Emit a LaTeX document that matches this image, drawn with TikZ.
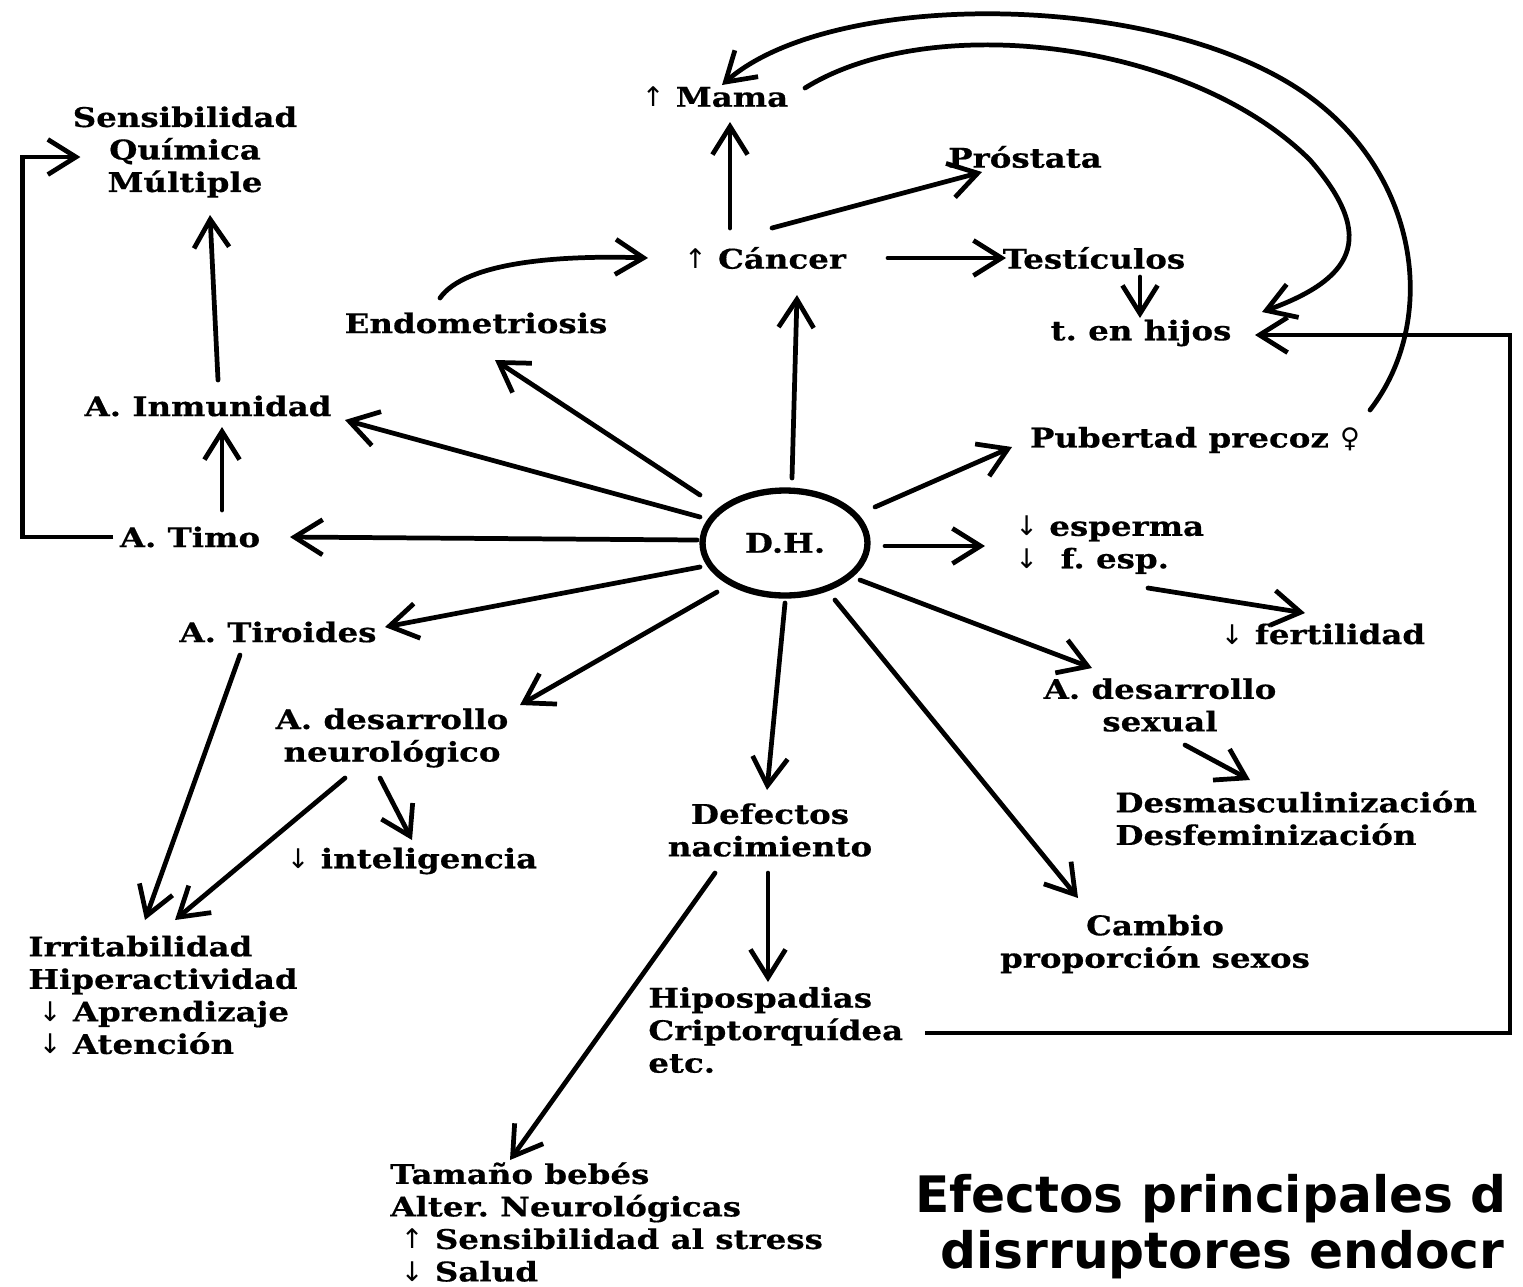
\documentclass[tikz,border=0pt]{standalone}
\usepackage{fontspec}
\setmainfont{DejaVu Serif}[FakeStretch=1.2, BoldFeatures={FakeBold=0.5}]
\newfontfamily\arrfont{DejaVu Sans}
\newfontfamily\titlefont{DejaVu Sans}
\usetikzlibrary{arrows.meta,shapes.geometric}
\newcommand\myup{{\arrfont\mdseries ↑}}
\newcommand\mydown{{\arrfont\mdseries ↓}}
\newcommand\myfem{{\arrfont\mdseries ♀}}
\begin{document}
\frenchspacing
\begin{tikzpicture}[x=0.02cm,y=-0.02cm,
  lbl/.style={font=\bfseries\fontsize{15.4pt}{18.5pt}\selectfont, inner sep=0pt, align=center},
  lbll/.style={lbl, align=left},
  arr/.style={line width=2.7pt, line cap=round, -{Straight Barb[length=16pt,width=20pt,line width=2.7pt]}},
  ttl/.style={font=\titlefont\bfseries\fontsize{28.6pt}{31pt}\selectfont, inner sep=0pt, anchor=base west}
]
\useasboundingbox (0,0) rectangle (1523,1286);
\fill[white] (0,0) rectangle (1523,1286);

% nodes
\node[lbl] (mama) at (715,97) {\myup\ Mama};
\node[lbl] (sqm) at (185,152) {Sensibilidad\\Química\\Múltiple};
\node[lbl] (prost) at (1025,157) {Próstata};
\node[lbl] (cancer) at (765,258) {\myup\ Cáncer};
\node[lbl] (testi) at (1094,258) {Testículos};
\node[lbl] (hijos) at (1141,333) {t. en hijos};
\node[lbl] (endo) at (476,323) {Endometriosis};
\node[lbl] (inmu) at (208,406) {A. Inmunidad};
\node[lbl] (pub) at (1195,440) {Pubertad precoz \myfem};
\node[lbl] (timo) at (190,537) {A. Timo};
\node[lbl, draw, ellipse, line width=3.6pt, minimum width=3.3cm, minimum height=2.1cm] (dh) at (785,543) {D.H.};
\node[lbll, anchor=west] (esp) at (1015,545) {\mydown\ esperma\\\mydown\ \ f. esp.};
\node[lbl] (fert) at (1323,634) {\mydown\ fertilidad};
\node[lbl] (tiro) at (278,632) {A. Tiroides};
\node[lbl] (neuro) at (392,738) {A. desarrollo\\neurológico};
\node[lbl] (sexual) at (1160,705) {A. desarrollo\\sexual};
\node[lbll, anchor=west] (desm) at (1115,818) {Desmasculinización\\Desfeminización};
\node[lbl] (intel) at (412,861) {\mydown\ inteligencia};
\node[lbl] (defect) at (770,830) {Defectos\\nacimiento};
\node[lbll, anchor=west] (irrit) at (28,995) {Irritabilidad\\Hiperactividad\\\hspace*{6pt}\mydown\ Aprendizaje\\\hspace*{6pt}\mydown\ Atención};
\node[lbl] (cambio) at (1155,944) {Cambio\\proporción sexos};
\node[lbll, anchor=west] (hipo) at (648,1030) {Hipospadias\\Criptorquídea\\etc.};
\node[lbll, anchor=west] (tam) at (390,1222) {Tamaño bebés\\Alter. Neurológicas\\\hspace*{6pt}\myup\ Sensibilidad al stress\\\hspace*{6pt}\mydown\ Salud};
\node[ttl] (t1) at (915,1212) {Efectos principales d};
\node[ttl] (t2) at (940,1268) {disrruptores endocr};

% connectors
\draw[arr] ([shift={(7,-65)}]dh.center) -- ([shift={(32,37)}]cancer.center);
\draw[arr] ([shift={(-35,-30)}]cancer.center) -- ([shift={(15,25)}]mama.center);
\draw[arr] ([shift={(7,-30)}]cancer.center) -- ([shift={(-43,15)}]prost.center);
\draw[arr] ([shift={(123,0)}]cancer.center) -- ([shift={(-88,0)}]testi.center);
\draw[arr] ([shift={(46,19)}]testi.center) -- ([shift={(-1,-15)}]hijos.center);
\draw[arr] ([shift={(-36,-25)}]endo.center) .. controls (465,262) and (560,255) .. ([shift={(-117,0)}]cancer.center);
\draw[arr] ([shift={(90,-9)}]mama.center) .. controls (930,10) and (1190,40) .. (1310,160)
  .. controls (1380,240) and (1350,280) .. ([shift={(121,-21)}]hijos.center);
\draw[arr] ([shift={(175,-30)}]pub.center) .. controls (1440,320) and (1420,170) .. (1300,90)
  .. controls (1150,-10) and (830,-10) .. ([shift={(7,-12)}]mama.center);
\draw[arr] ([shift={(-85,-48)}]dh.center) -- ([shift={(19,37)}]endo.center);
\draw[arr] ([shift={(-85,-26)}]dh.center) -- ([shift={(137,14)}]inmu.center);
\draw[arr] ([shift={(-88,-3)}]dh.center) -- ([shift={(100,0)}]timo.center);
\draw[arr] ([shift={(32,-27)}]timo.center) -- ([shift={(14,21)}]inmu.center);
\draw[arr] ([shift={(10,-26)}]inmu.center) -- ([shift={(25,63)}]sqm.center);
\draw[arr, line cap=butt] ([shift={(-6,0)}]timo.west) -- ++(-91,0) |- ([shift={(8,5)}]sqm.west);
\draw[arr] ([shift={(-85,24)}]dh.center) -- ([shift={(107,-5)}]tiro.center);
\draw[arr] ([shift={(-38,23)}]tiro.center) -- ([shift={(117,-75)}]irrit.west);
\draw[arr] ([shift={(-47,40)}]neuro.center) -- ([shift={(147,-75)}]irrit.west);
\draw[arr] ([shift={(-12,40)}]neuro.center) -- ([shift={(0,-21)}]intel.center);
\draw[arr] ([shift={(-68,49)}]dh.center) -- ([shift={(128,-33)}]neuro.center);
\draw[arr] ([shift={(0,60)}]dh.center) -- ([shift={(-3,-40)}]defect.center);
\draw[arr] ([shift={(-2,43)}]defect.center) -- ([shift={(120,-48)}]hipo.west);
\draw[arr] ([shift={(-55,43)}]defect.center) -- ([shift={(120,-62)}]tam.west);
\draw[arr] ([shift={(50,57)}]dh.center) -- ([shift={(-77,-46)}]cambio.center);
\draw[arr] ([shift={(75,37)}]dh.center) -- ([shift={(-68,-37)}]sexual.center);
\draw[arr] ([shift={(100,3)}]dh.center) -- ([shift={(-30,1)}]esp.west);
\draw[arr] ([shift={(90,-36)}]dh.center) -- ([shift={(-183,7)}]pub.center);
\draw[arr] ([shift={(133,43)}]esp.west) -- ([shift={(-18,-21)}]fert.center);
\draw[arr] ([shift={(25,40)}]sexual.center) -- ([shift={(135,-38)}]desm.west);
\draw[arr, line cap=butt] ([shift={(277,3)}]hipo.west) -- ++(585,0) |- ([shift={(114,2)}]hijos.center);
\end{tikzpicture}
\end{document}
